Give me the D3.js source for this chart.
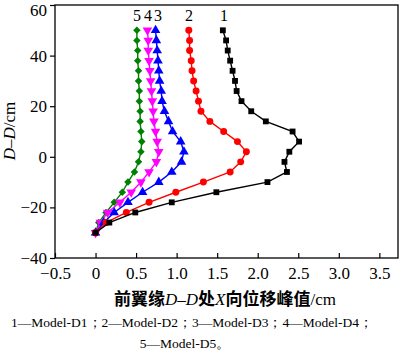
<!DOCTYPE html>
<html><head><meta charset="utf-8">
<script src="https://cdn.jsdelivr.net/npm/d3@7"></script>
<style>
html,body{margin:0;padding:0;background:#fff;}
svg{display:block;}
text{font-family:"Liberation Serif","Times New Roman",serif;fill:#000;}
</style></head><body>
<svg id="c" width="400" height="356"></svg>
<script>
const depths = [50,46,42,38,34,30,26,22,18,14,10,6,2,-2,-6,-10,-14,-18,-22,-26,-30];
const d1 = [1.57,1.61,1.63,1.66,1.69,1.72,1.74,1.80,1.92,2.10,2.43,2.51,2.39,2.33,2.36,2.12,1.49,0.94,0.49,0.17,0];
const d2 = [1.15,1.16,1.16,1.18,1.19,1.21,1.24,1.27,1.30,1.41,1.58,1.75,1.86,1.79,1.66,1.33,0.99,0.66,0.38,0.13,0];
const d3v = [0.74,0.75,0.76,0.77,0.78,0.79,0.81,0.82,0.85,0.90,0.95,1.05,1.09,1.06,0.94,0.78,0.58,0.40,0.23,0.10,0];
const d4 = [0.64,0.65,0.65,0.66,0.67,0.68,0.69,0.70,0.71,0.72,0.74,0.76,0.78,0.75,0.66,0.56,0.44,0.30,0.15,0.06,0];
const d5 = [0.51,0.51,0.52,0.52,0.53,0.53,0.54,0.54,0.55,0.55,0.56,0.57,0.56,0.53,0.48,0.40,0.33,0.23,0.13,0.04,0];
const seriesNames = ["1","2","3","4","5"];
const xTicks = [-0.5,0,0.5,1.0,1.5,2.0,2.5,3.0,3.5];
const yTicks = [-40,-20,0,20,40,60];
const captionLines = ["1—Model-D1；2—Model-D2；3—Model-D3；4—Model-D4；","5—Model-D5。"];

const svg = d3.select("#c");
const L=55,R=398,T=5,B=258;
const x = d3.scaleLinear().domain([-0.5,3.73]).range([L,R]);
const y = d3.scaleLinear().domain([-40,60]).range([B,T]);

const series = [
  {v:d1,color:"#000000",sym:d3.symbolSquare,size:34,rot:0},
  {v:d2,color:"#ff0000",sym:d3.symbolCircle,size:38,rot:0},
  {v:d3v,color:"#0000ff",sym:d3.symbolTriangle,size:40,rot:0},
  {v:d4,color:"#ff00ff",sym:d3.symbolTriangle,size:40,rot:180},
  {v:d5,color:"#008000",sym:d3.symbolDiamond2,size:36,rot:0}
];

const line = d3.line().x(d=>x(d[0])).y(d=>y(d[1]));
series.slice().reverse().forEach(s=>{
  const pts = s.v.map((v,i)=>[v,depths[i]]);
  svg.append("path").attr("d",line(pts)).attr("fill","none").attr("stroke",s.color).attr("stroke-width",1.4);
  svg.append("g").selectAll("path").data(pts).join("path")
    .attr("d",d3.symbol().type(s.sym).size(s.size))
    .attr("transform",d=>`translate(${x(d[0])},${y(d[1])}) rotate(${s.rot})`)
    .attr("fill",s.color);
});

// frame
svg.append("rect").attr("x",L).attr("y",T).attr("width",R-L).attr("height",B-T)
  .attr("fill","none").attr("stroke","#000").attr("stroke-width",1.3);

// x axis (inward ticks)
const xa = svg.append("g").attr("transform",`translate(0,${B})`)
  .call(d3.axisBottom(x).tickValues(xTicks).tickSizeInner(-5).tickSizeOuter(0).tickPadding(12)
    .tickFormat(d=>d===0?"0":d3.format(".1f")(d).replace("-","−")));
xa.select(".domain").remove();
xa.selectAll("line").attr("stroke","#000").attr("stroke-width",1.2);
xa.selectAll("text").attr("font-size",17).attr("font-family","Liberation Serif").attr("dy","0.55em");

// y axis (outward ticks)
const ya = svg.append("g").attr("transform",`translate(${L},0)`)
  .call(d3.axisLeft(y).tickValues(yTicks).tickSize(5).tickPadding(3)
    .tickFormat(d=>String(d).replace("-","−")));
ya.select(".domain").remove();
ya.selectAll("line").attr("stroke","#000").attr("stroke-width",1.2);
ya.selectAll("text").attr("font-size",17).attr("font-family","Liberation Serif")
  .attr("dy",d=>d===60?"0.62em":"0.32em");

// series number labels
const labelX = [224,189,158,148,137];
seriesNames.forEach((n,i)=>{
  svg.append("text").attr("x",labelX[i]).attr("y",21).attr("text-anchor","middle")
    .attr("font-size",16).text(n);
});

// y title
const yt = svg.append("text").attr("transform","translate(15,131) rotate(-90)")
  .attr("text-anchor","middle").attr("font-size",17);
yt.append("tspan").attr("font-style","italic").text("D");
yt.append("tspan").text("–");
yt.append("tspan").attr("font-style","italic").text("D");
yt.append("tspan").text("/cm");

// x title
const xt = svg.append("text").attr("x",225).attr("y",305).attr("text-anchor","middle").attr("font-size",17);
xt.append("tspan").attr("font-family","Noto Sans CJK SC").attr("font-weight","bold").text("前翼缘");
xt.append("tspan").attr("font-style","italic").text("D");
xt.append("tspan").text("–");
xt.append("tspan").attr("font-style","italic").text("D");
xt.append("tspan").attr("font-family","Noto Sans CJK SC").attr("font-weight","bold").text("处");
xt.append("tspan").attr("font-style","italic").text("X");
xt.append("tspan").attr("font-family","Noto Sans CJK SC").attr("font-weight","bold").text("向位移峰值");
xt.append("tspan").text("/cm");

// caption
svg.append("text").attr("x",192).attr("y",327).attr("text-anchor","middle").attr("font-size",13.5).text(captionLines[0]);
svg.append("text").attr("x",185).attr("y",348).attr("text-anchor","middle").attr("font-size",13.5).text(captionLines[1]);
</script>
</body></html>
